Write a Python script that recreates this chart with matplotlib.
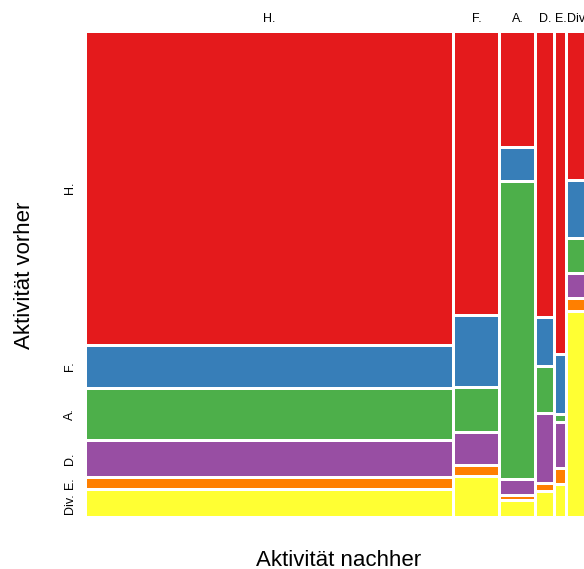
import matplotlib.pyplot as plt
from matplotlib.patches import Rectangle

plt.rcParams['font.family'] = ['Liberation Sans', 'DejaVu Sans']

# categories (same for before / after)
categories = ['H.', 'F.', 'A.', 'D.', 'E.', 'Div.']
colors = ['#E41A1C', '#377EB8', '#4DAF4A', '#984EA3', '#FF7F00', '#FFFF33']

# counts: for each "nachher" column, counts of each "vorher" category (H., F., A., D., E., Div.)
nach_H = [5007, 644, 797, 540, 153, 403]
nach_F = [535, 131, 80, 57, 15, 72]
nach_A = [165, 45, 430, 19, 4, 20]
nach_D = [200, 33, 31, 47, 4, 16]
nach_E = [127, 23, 2, 17, 5, 12]
nach_Div = [116, 44, 26, 17, 8, 162]
columns = [nach_H, nach_F, nach_A, nach_D, nach_E, nach_Div]

fig = plt.figure(figsize=(5.84, 5.69), dpi=100)
ax = fig.add_axes([87 / 584, 53 / 569, 499 / 584, 483 / 569])
ax.set_xlim(0, 1)
ax.set_ylim(0, 1)

gx = 3 / 499
gy = 3 / 483
total = sum(sum(c) for c in columns)
usable_w = 1 - (len(columns) - 1) * gx

x = 0
xcenters = []
first_ycenters = []
for j, col in enumerate(columns):
    w = sum(col) / total * usable_w
    usable_h = 1 - (len(col) - 1) * gy
    top = 1
    for i, n in enumerate(col):
        h = n / sum(col) * usable_h
        ax.add_patch(Rectangle((x, top - h), w, h, facecolor=colors[i],
                               edgecolor='none'))
        if j == 0:
            first_ycenters.append(top - h / 2)
        top -= h + gy
    xcenters.append(x + w / 2)
    x += w + gx

for s in ax.spines.values():
    s.set_visible(False)

ax.xaxis.tick_top()
ax.set_xticks(xcenters)
ax.set_xticklabels(categories, fontsize=9)
ax.set_yticks(first_ycenters)
ax.set_yticklabels(categories, fontsize=9, rotation=90, va='center')
ax.tick_params(length=0)
ax.tick_params(axis='x', pad=6)
ax.tick_params(axis='y', pad=8)

fig.text(339 / 584, 1 - 560 / 569, 'Aktivität nachher', fontsize=16,
         ha='center', va='center')
fig.text(25 / 584, 1 - 275 / 569, 'Aktivität vorher', fontsize=16,
         ha='center', va='center', rotation=90)

fig.savefig('out.png', dpi=100)
